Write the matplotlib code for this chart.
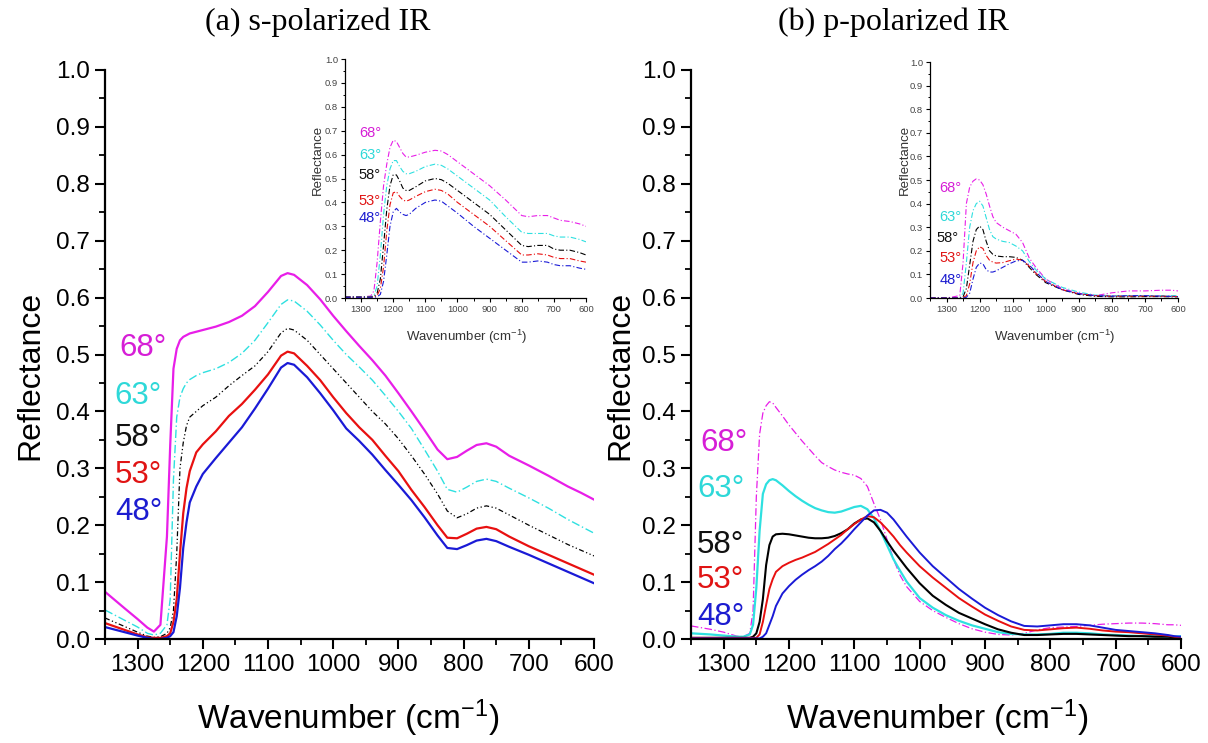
import matplotlib
matplotlib.use('Agg')
import matplotlib.pyplot as plt
from matplotlib.ticker import MultipleLocator

plt.rcParams['font.family'] = ['Liberation Sans', 'DejaVu Sans']
plt.rcParams['mathtext.default'] = 'regular'

# ---------------- data: (a) s-polarized, main panel ----------------
wn_s = [1350, 1320, 1300, 1285, 1275, 1265, 1255, 1250, 1245, 1240, 1235, 1230, 1225,
        1220, 1210, 1200, 1180, 1160, 1140, 1120, 1100, 1080, 1070, 1060, 1040, 1020,
        1000, 980, 960, 940, 920, 900, 880, 860, 840, 825, 810, 795, 780, 765, 750,
        730, 700, 670, 640, 620, 600]
s68 = [0.083, 0.054, 0.035, 0.020, 0.013, 0.025, 0.18, 0.34, 0.475, 0.51, 0.525, 0.531, 0.534,
       0.537, 0.540, 0.543, 0.549, 0.557, 0.568, 0.585, 0.610, 0.638, 0.643, 0.640, 0.622, 0.597,
       0.568, 0.541, 0.515, 0.490, 0.463, 0.432, 0.400, 0.367, 0.333, 0.316, 0.320, 0.331, 0.341,
       0.344, 0.338, 0.322, 0.305, 0.287, 0.268, 0.257, 0.245]
s63 = [0.051, 0.033, 0.021, 0.010, 0.007, 0.010, 0.025, 0.07, 0.28, 0.39, 0.425, 0.440, 0.450,
       0.456, 0.463, 0.468, 0.475, 0.486, 0.502, 0.525, 0.556, 0.588, 0.596, 0.594, 0.576, 0.552,
       0.525, 0.500, 0.478, 0.455, 0.428, 0.400, 0.370, 0.333, 0.295, 0.263, 0.258, 0.267, 0.277,
       0.281, 0.277, 0.265, 0.248, 0.230, 0.210, 0.198, 0.186]
s58 = [0.037, 0.022, 0.012, 0.005, 0.003, 0.004, 0.010, 0.020, 0.050, 0.15, 0.30, 0.345, 0.375,
       0.390, 0.400, 0.410, 0.425, 0.445, 0.463, 0.480, 0.505, 0.538, 0.546, 0.543, 0.525, 0.500,
       0.475, 0.450, 0.425, 0.400, 0.378, 0.352, 0.322, 0.290, 0.255, 0.225, 0.213, 0.220, 0.230,
       0.234, 0.230, 0.218, 0.200, 0.183, 0.166, 0.156, 0.146]
s53 = [0.028, 0.016, 0.008, 0.003, 0.002, 0.002, 0.005, 0.010, 0.030, 0.07, 0.15, 0.221, 0.265,
       0.295, 0.328, 0.342, 0.365, 0.392, 0.413, 0.438, 0.465, 0.498, 0.505, 0.502, 0.480, 0.455,
       0.425, 0.397, 0.372, 0.350, 0.322, 0.295, 0.262, 0.232, 0.200, 0.178, 0.177, 0.185, 0.194,
       0.197, 0.193, 0.180, 0.163, 0.148, 0.133, 0.123, 0.113]
s48 = [0.021, 0.012, 0.006, 0.002, 0.000, 0.000, 0.002, 0.005, 0.012, 0.04, 0.09, 0.16, 0.205,
       0.240, 0.268, 0.290, 0.318, 0.345, 0.372, 0.405, 0.440, 0.477, 0.485, 0.482, 0.460, 0.432,
       0.402, 0.370, 0.348, 0.324, 0.297, 0.271, 0.244, 0.214, 0.182, 0.160, 0.158, 0.165, 0.173,
       0.176, 0.172, 0.162, 0.148, 0.133, 0.118, 0.108, 0.098]

# ---------------- data: (b) p-polarized, main panel ----------------
wn_p = [1350, 1320, 1300, 1280, 1270, 1260, 1255, 1250, 1245, 1240, 1235, 1230, 1225, 1220,
        1210, 1200, 1190, 1180, 1170, 1160, 1150, 1140, 1130, 1120, 1110, 1100, 1090, 1080,
        1070, 1060, 1050, 1040, 1030, 1020, 1000, 980, 960, 940, 920, 900, 880, 860, 840,
        820, 800, 780, 760, 740, 720, 700, 680, 660, 640, 620, 610, 600]
p68 = [0.023, 0.017, 0.012, 0.005, 0.004, 0.010, 0.05, 0.25, 0.36, 0.397, 0.410, 0.417, 0.415, 0.407,
       0.392, 0.376, 0.362, 0.348, 0.335, 0.322, 0.310, 0.303, 0.297, 0.293, 0.290, 0.288, 0.282, 0.268,
       0.238, 0.210, 0.175, 0.140, 0.112, 0.092, 0.066, 0.050, 0.038, 0.027, 0.018, 0.012, 0.008, 0.007,
       0.010, 0.016, 0.020, 0.021, 0.022, 0.024, 0.026, 0.027, 0.028, 0.028, 0.027, 0.025, 0.025, 0.024]
p63 = [0.010, 0.008, 0.006, 0.004, 0.004, 0.008, 0.025, 0.09, 0.19, 0.255, 0.272, 0.279, 0.281, 0.279,
       0.270, 0.260, 0.251, 0.243, 0.236, 0.230, 0.226, 0.223, 0.222, 0.224, 0.228, 0.232, 0.234, 0.228,
       0.212, 0.190, 0.165, 0.140, 0.120, 0.101, 0.072, 0.055, 0.042, 0.032, 0.024, 0.018, 0.012, 0.009,
       0.008, 0.008, 0.009, 0.011, 0.011, 0.010, 0.008, 0.007, 0.006, 0.005, 0.005, 0.004, 0.004, 0.005]
p58 = [0.002, 0.002, 0.002, 0.002, 0.002, 0.002, 0.004, 0.010, 0.030, 0.07, 0.13, 0.165, 0.180, 0.184,
       0.185, 0.184, 0.182, 0.180, 0.178, 0.177, 0.177, 0.178, 0.181, 0.186, 0.193, 0.203, 0.210, 0.212,
       0.205, 0.190, 0.172, 0.155, 0.140, 0.125, 0.098, 0.076, 0.060, 0.046, 0.036, 0.026, 0.017, 0.011,
       0.007, 0.007, 0.008, 0.009, 0.009, 0.008, 0.007, 0.006, 0.005, 0.005, 0.004, 0.004, 0.003, 0.003]
p53 = [0.002, 0.002, 0.002, 0.002, 0.002, 0.002, 0.002, 0.002, 0.008, 0.030, 0.060, 0.088, 0.105, 0.118,
       0.128, 0.134, 0.139, 0.143, 0.148, 0.153, 0.160, 0.167, 0.175, 0.183, 0.193, 0.202, 0.210, 0.216,
       0.214, 0.205, 0.193, 0.180, 0.165, 0.152, 0.128, 0.108, 0.090, 0.072, 0.057, 0.043, 0.032, 0.022,
       0.016, 0.015, 0.017, 0.019, 0.020, 0.018, 0.015, 0.013, 0.012, 0.010, 0.008, 0.006, 0.004, 0.003]
p48 = [0.001, 0.001, 0.001, 0.001, 0.001, 0.001, 0.001, 0.001, 0.001, 0.004, 0.010, 0.025, 0.040, 0.058,
       0.080, 0.093, 0.104, 0.113, 0.121, 0.128, 0.136, 0.146, 0.158, 0.168, 0.180, 0.193, 0.205, 0.217,
       0.226, 0.227, 0.222, 0.210, 0.195, 0.180, 0.152, 0.128, 0.108, 0.088, 0.071, 0.055, 0.042, 0.031,
       0.023, 0.022, 0.024, 0.026, 0.026, 0.024, 0.020, 0.016, 0.014, 0.012, 0.010, 0.007, 0.005, 0.004]

# ---------------- data: inset (a) ----------------
wn_si = [1350, 1300, 1270, 1260, 1250, 1240, 1230, 1220, 1210, 1200, 1190, 1180, 1170, 1160,
         1150, 1130, 1100, 1070, 1050, 1030, 1000, 950, 900, 850, 800, 780, 750, 720, 700,
         680, 650, 620, 600]
si68 = [0.005, 0.005, 0.008, 0.03, 0.15, 0.32, 0.47, 0.56, 0.63, 0.66, 0.655, 0.63, 0.605, 0.59,
        0.59, 0.597, 0.61, 0.618, 0.615, 0.60, 0.57, 0.52, 0.47, 0.41, 0.345, 0.34, 0.345, 0.345,
        0.335, 0.325, 0.32, 0.31, 0.30]
si63 = [0.005, 0.005, 0.006, 0.01, 0.05, 0.18, 0.35, 0.47, 0.54, 0.575, 0.575, 0.55, 0.53, 0.52,
        0.52, 0.53, 0.55, 0.56, 0.555, 0.54, 0.51, 0.46, 0.41, 0.34, 0.275, 0.27, 0.27, 0.27,
        0.26, 0.255, 0.255, 0.245, 0.235]
si58 = [0.004, 0.004, 0.004, 0.006, 0.02, 0.08, 0.22, 0.37, 0.47, 0.515, 0.515, 0.49, 0.46, 0.45,
        0.45, 0.465, 0.49, 0.50, 0.495, 0.48, 0.45, 0.40, 0.35, 0.285, 0.22, 0.215, 0.22, 0.22,
        0.205, 0.20, 0.20, 0.19, 0.18]
si53 = [0.003, 0.003, 0.003, 0.004, 0.01, 0.04, 0.13, 0.28, 0.39, 0.44, 0.445, 0.425, 0.41, 0.405,
        0.41, 0.425, 0.445, 0.455, 0.45, 0.435, 0.40, 0.35, 0.30, 0.24, 0.18, 0.18, 0.185, 0.18,
        0.17, 0.165, 0.165, 0.155, 0.15]
si48 = [0.003, 0.003, 0.003, 0.003, 0.005, 0.015, 0.07, 0.18, 0.30, 0.36, 0.375, 0.36, 0.35, 0.345,
        0.35, 0.375, 0.40, 0.41, 0.405, 0.385, 0.355, 0.30, 0.25, 0.20, 0.15, 0.15, 0.155, 0.15,
        0.14, 0.135, 0.135, 0.125, 0.12]

# ---------------- data: inset (b) ----------------
wn_pi = [1350, 1300, 1260, 1250, 1240, 1230, 1220, 1210, 1200, 1190, 1180, 1170, 1160, 1150,
         1130, 1110, 1090, 1070, 1050, 1030, 1000, 950, 900, 850, 800, 750, 700, 650, 620, 600]
pi68 = [0.0, 0.0, 0.01, 0.15, 0.40, 0.47, 0.495, 0.505, 0.50, 0.48, 0.44, 0.39, 0.345, 0.32,
        0.30, 0.285, 0.27, 0.235, 0.17, 0.13, 0.08, 0.04, 0.02, 0.01, 0.022, 0.03, 0.03, 0.033,
        0.033, 0.03]
pi63 = [0.0, 0.0, 0.002, 0.02, 0.15, 0.30, 0.37, 0.40, 0.41, 0.39, 0.34, 0.29, 0.26, 0.25,
        0.24, 0.235, 0.22, 0.20, 0.155, 0.12, 0.08, 0.045, 0.025, 0.012, 0.01, 0.01, 0.01, 0.01,
        0.01, 0.01]
pi58 = [0.0, 0.0, 0.0, 0.005, 0.04, 0.14, 0.24, 0.29, 0.305, 0.29, 0.24, 0.20, 0.185, 0.178,
        0.175, 0.175, 0.172, 0.16, 0.13, 0.10, 0.065, 0.035, 0.015, 0.007, 0.005, 0.005, 0.006,
        0.006, 0.005, 0.005]
pi53 = [0.0, 0.0, 0.0, 0.002, 0.01, 0.06, 0.15, 0.20, 0.217, 0.21, 0.18, 0.16, 0.152, 0.148,
        0.15, 0.158, 0.165, 0.16, 0.135, 0.105, 0.07, 0.035, 0.018, 0.01, 0.008, 0.008, 0.008,
        0.008, 0.007, 0.006]
pi48 = [0.0, 0.0, 0.0, 0.0, 0.003, 0.02, 0.08, 0.13, 0.148, 0.145, 0.12, 0.11, 0.11, 0.115,
        0.13, 0.145, 0.157, 0.16, 0.14, 0.11, 0.07, 0.035, 0.018, 0.01, 0.008, 0.01, 0.01,
        0.008, 0.007, 0.006]

angles = ['68°', '63°', '58°', '53°', '48°']
line_colors = ['#e81ee8', '#2ee0e0', '#000000', '#e81010', '#1a1ad6']
text_colors = ['#d61ed6', '#2ed8d8', '#111111', '#e01414', '#1c1cd0']

W, H = 1208, 743
fig = plt.figure(figsize=(W / 100, H / 100), dpi=100)


def fx(px):
    return px / W


def fy(py):
    return 1 - py / H


ax1 = fig.add_axes([fx(105), fy(639), 489 / W, 569 / H])
ax2 = fig.add_axes([fx(691), fy(639), 490 / W, 569 / H])
ins1 = fig.add_axes([fx(345), fy(298), 241 / W, 239 / H])
ins2 = fig.add_axes([fx(930), fy(298), 248 / W, 236 / H])


def style_main(ax):
    ax.set_xlim(1350, 600)
    ax.set_ylim(0, 1.0)
    for s in ['top', 'right']:
        ax.spines[s].set_visible(False)
    for s in ['left', 'bottom']:
        ax.spines[s].set_linewidth(1.6)
    ax.set_xticks([1300, 1200, 1100, 1000, 900, 800, 700, 600])
    ax.xaxis.set_minor_locator(MultipleLocator(50))
    ax.set_yticks([i / 10 for i in range(11)])
    ax.set_yticklabels(['%.1f' % (i / 10) for i in range(11)])
    ax.yaxis.set_minor_locator(MultipleLocator(0.05))
    ax.tick_params(which='major', direction='out', length=7, width=1.5, labelsize=17.5, pad=4)
    ax.tick_params(which='minor', direction='out', length=4, width=1.3)
    ax.set_facecolor('none')


def style_inset(ax):
    ax.set_xlim(1350, 600)
    ax.set_ylim(0, 1.0)
    for s in ['top', 'right']:
        ax.spines[s].set_visible(False)
    for s in ['left', 'bottom']:
        ax.spines[s].set_linewidth(0.9)
    ax.set_xticks([1300, 1200, 1100, 1000, 900, 800, 700, 600])
    ax.xaxis.set_minor_locator(MultipleLocator(50))
    ax.set_yticks([i / 10 for i in range(11)])
    ax.set_yticklabels(['%.1f' % (i / 10) for i in range(11)])
    ax.yaxis.set_minor_locator(MultipleLocator(0.05))
    ax.tick_params(which='major', direction='out', length=3, width=0.8, labelsize=6.8,
                   pad=2, labelcolor='#444444')
    ax.tick_params(which='minor', direction='out', length=1.8, width=0.7)
    ax.set_facecolor('none')


style_main(ax1)
style_main(ax2)
style_inset(ins1)
style_inset(ins2)

# main (a): solid magenta/red/blue, dash-dot cyan and black
s_series = [s68, s63, s58, s53, s48]
s_styles = ['-', (0, (6, 2, 1, 2)), (0, (4, 2, 1, 2, 1, 2)), '-', '-']
s_widths = [1.6, 1.0, 0.9, 1.6, 1.6]
for ys, c, ls, lw in zip(s_series, line_colors, s_styles, s_widths):
    ax1.plot(wn_s, ys, color=c, ls=ls, lw=lw)

# main (b): dash-dot magenta, others solid
p_series = [p68, p63, p58, p53, p48]
p_styles = [(0, (6, 2, 1, 2)), '-', '-', '-', '-']
p_widths = [0.9, 1.6, 1.5, 1.4, 1.4]
for ys, c, ls, lw in zip(p_series, line_colors, p_styles, p_widths):
    ax2.plot(wn_p, ys, color=c, ls=ls, lw=lw)

for ys, c in zip([si68, si63, si58, si53, si48], line_colors):
    ins1.plot(wn_si, ys, color=c, ls=(0, (5, 2, 1, 2)), lw=0.8)
for ys, c in zip([pi68, pi63, pi58, pi53, pi48], line_colors):
    ins2.plot(wn_pi, ys, color=c, ls=(0, (5, 2, 1, 2)), lw=0.8)

# angle labels
lab_y_a = [0.511, 0.427, 0.353, 0.288, 0.223]
lab_x_a = [1328, 1335, 1335, 1335, 1335]
for t, c, x, y in zip(angles, text_colors, lab_x_a, lab_y_a):
    ax1.text(x, y, t, color=c, fontsize=22.5, ha='left', va='center')

lab_y_b = [0.344, 0.264, 0.165, 0.104, 0.039]
lab_x_b = [1336, 1341, 1341, 1341, 1341]
for t, c, x, y in zip(angles, text_colors, lab_x_b, lab_y_b):
    ax2.text(x, y, t, color=c, fontsize=22.5, ha='left', va='center')

lab_y_ai = [0.69, 0.598, 0.515, 0.405, 0.335]
for t, c, y in zip(angles, text_colors, lab_y_ai):
    ins1.text(1307, y, t, color=c, fontsize=10.5, ha='left', va='center')

lab_y_bi = [0.466, 0.343, 0.254, 0.169, 0.076]
lab_x_bi = [1321, 1321, 1330, 1321, 1321]
for t, c, x, y in zip(angles, text_colors, lab_x_bi, lab_y_bi):
    ins2.text(x, y, t, color=c, fontsize=10.5, ha='left', va='center')

# titles and axis labels
serif = ['Liberation Serif', 'DejaVu Serif']
fig.text(fx(318), fy(22), '(a) s-polarized IR', family=serif, fontsize=23, ha='center', va='center')
fig.text(fx(893), fy(22), '(b) p-polarized IR', family=serif, fontsize=23, ha='center', va='center')

fig.text(fx(30), fy(375), 'Reflectance', rotation=90, fontsize=23, ha='center', va='center')
fig.text(fx(620), fy(375), 'Reflectance', rotation=90, fontsize=23, ha='center', va='center')
fig.text(fx(348), fy(718), 'Wavenumber (cm$^{-1}$)', fontsize=24, ha='center', va='center')
fig.text(fx(937), fy(718), 'Wavenumber (cm$^{-1}$)', fontsize=24, ha='center', va='center')

fig.text(fx(318), fy(160), 'Reflectance', rotation=90, fontsize=9.5, ha='center', va='center',
         color='#333333')
fig.text(fx(905), fy(160), 'Reflectance', rotation=90, fontsize=9.5, ha='center', va='center',
         color='#333333')
fig.text(fx(467), fy(337), 'Wavenumber (cm$^{-1}$)', fontsize=9.5, ha='center', va='center',
         color='#333333')
fig.text(fx(1055), fy(337), 'Wavenumber (cm$^{-1}$)', fontsize=9.5, ha='center', va='center',
         color='#333333')

fig.savefig('out.png', dpi=100, facecolor='white')
